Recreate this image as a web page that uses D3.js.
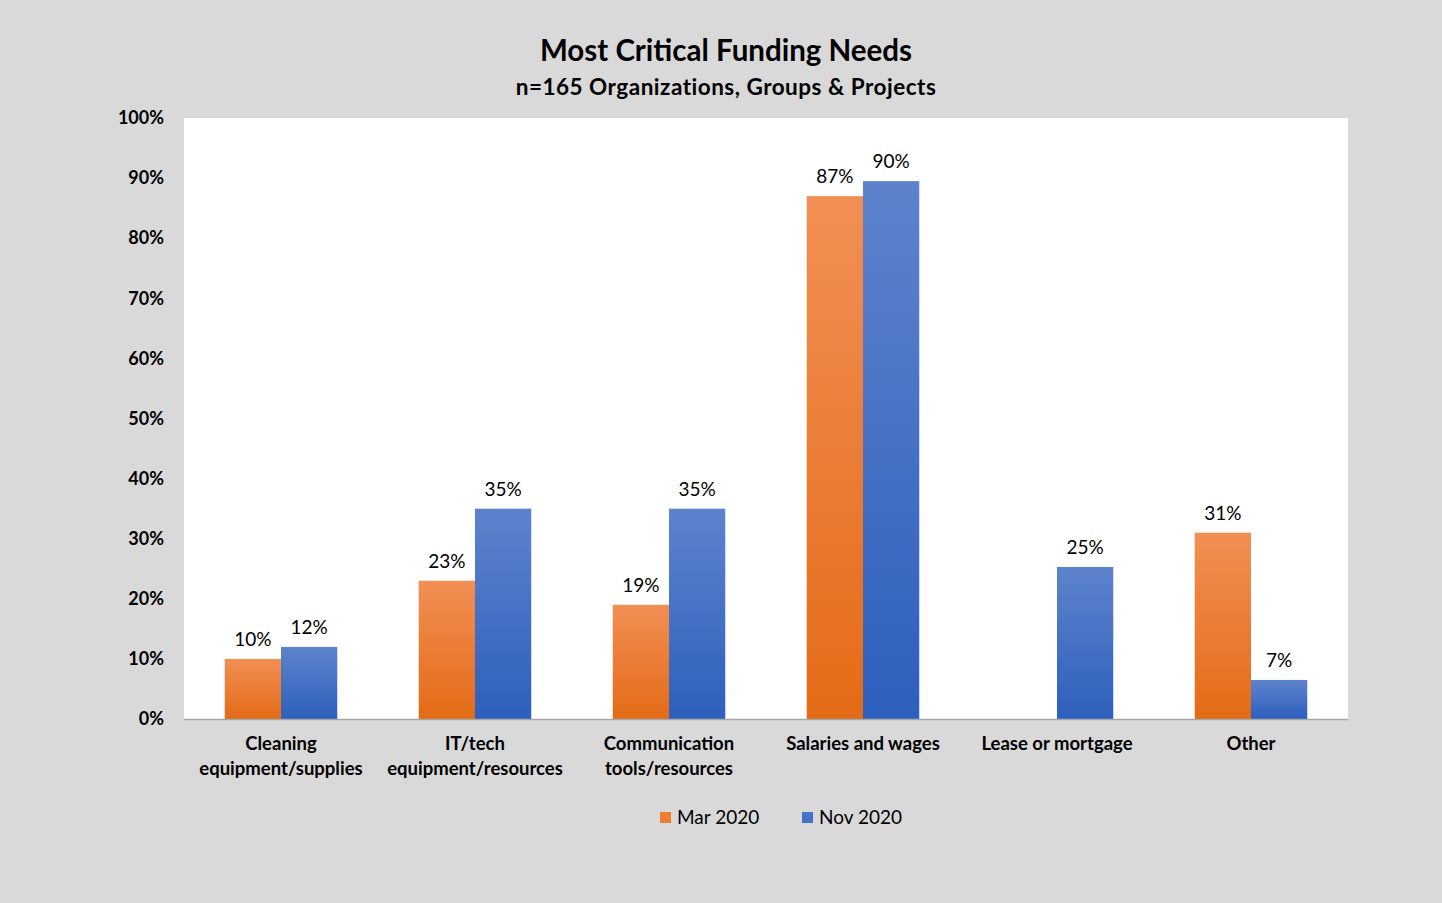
<!DOCTYPE html>
<html>
<head>
<meta charset="utf-8">
<script src="https://cdn.jsdelivr.net/npm/d3@7"></script>
<style>
  html, body { margin: 0; padding: 0; background: #d9d9d9; }
  svg { display: block; }
  text { font-family: Lato, "Open Sans", "Liberation Sans", sans-serif; fill: #000; }
</style>
</head>
<body>
<svg id="chart" width="1442" height="903"></svg>
<script>
const categories = [
  ["Cleaning", "equipment/supplies"],
  ["IT/tech", "equipment/resources"],
  ["Communication", "tools/resources"],
  ["Salaries and wages"],
  ["Lease or mortgage"],
  ["Other"]
];
const seriesNames = ["Mar 2020", "Nov 2020"];
const mar2020 = [10, 23, 19, 87, null, 31];
const nov2020 = [12, 35, 35, 89.5, 25.3, 6.5];
const yTicks = [0, 10, 20, 30, 40, 50, 60, 70, 80, 90, 100];

const svg = d3.select("#chart");
const W = 1442, H = 903;
const plot = { left: 184, right: 1348, top: 118, bottom: 719 };

svg.append("rect").attr("width", W).attr("height", H).attr("fill", "#d9d9d9");

const defs = svg.append("defs");
const gradDefs = [
  { id: "gOrange", top: "#f28f55", bottom: "#e36b16" },
  { id: "gBlue", top: "#5e83cc", bottom: "#2d5fbd" }
];
gradDefs.forEach(g => {
  const lg = defs.append("linearGradient").attr("id", g.id)
    .attr("x1", 0).attr("y1", 0).attr("x2", 0).attr("y2", 1);
  lg.append("stop").attr("offset", "0%").attr("stop-color", g.top);
  lg.append("stop").attr("offset", "100%").attr("stop-color", g.bottom);
});
const fills = ["url(#gOrange)", "url(#gBlue)"];
const legendColors = ["#ed7d31", "#4472c4"];

svg.append("rect")
  .attr("x", plot.left).attr("y", plot.top)
  .attr("width", plot.right - plot.left).attr("height", plot.bottom - plot.top)
  .attr("fill", "#ffffff");

const x0 = d3.scaleBand()
  .domain(d3.range(categories.length))
  .range([plot.left, plot.right])
  .paddingInner(0.42).paddingOuter(0.21);
const x1 = d3.scaleBand().domain([0, 1]).range([0, x0.bandwidth()]);
const y = d3.scaleLinear().domain([0, 100]).range([plot.bottom, plot.top]);

// title
svg.append("text").attr("x", 726).attr("y", 61).attr("text-anchor", "middle")
  .attr("font-size", 29.5).attr("font-weight", "bold").text("Most Critical Funding Needs");
svg.append("text").attr("x", 726).attr("y", 95).attr("text-anchor", "middle")
  .attr("font-size", 22.5).attr("font-weight", "bold").attr("letter-spacing", 0.5)
  .text("n=165 Organizations, Groups & Projects");

// y axis
const yAxis = d3.axisLeft(y).tickValues(yTicks).tickSize(0).tickPadding(20)
  .tickFormat(d => d + "%");
const ya = svg.append("g").attr("transform", `translate(${plot.left},0)`).call(yAxis);
ya.select(".domain").remove();
ya.selectAll("text").attr("font-size", 18).attr("font-weight", "bold")
  .attr("font-family", "Lato, 'Open Sans', sans-serif").attr("fill", "#000");

// bars
const series = [mar2020, nov2020];
const g = svg.append("g");
series.forEach((vals, si) => {
  vals.forEach((v, ci) => {
    if (v == null) return;
    const bx = x0(ci) + x1(si);
    g.append("rect")
      .attr("x", bx).attr("y", y(v))
      .attr("width", x1.bandwidth()).attr("height", y(0) - y(v))
      .attr("fill", fills[si]);
    g.append("text")
      .attr("x", bx + x1.bandwidth() / 2).attr("y", y(v) - 13)
      .attr("text-anchor", "middle").attr("font-size", 19)
      .text(Math.round(v) + "%");
  });
});

// baseline
svg.append("line").attr("x1", plot.left).attr("x2", plot.right)
  .attr("y1", plot.bottom + 0.5).attr("y2", plot.bottom + 0.5)
  .attr("stroke", "#a6a6a6").attr("stroke-width", 1.5);

// x axis labels
categories.forEach((lines, ci) => {
  const cx = x0(ci) + x0.bandwidth() / 2;
  const t = svg.append("text").attr("x", cx).attr("y", 750)
    .attr("text-anchor", "middle").attr("font-size", 18.5).attr("font-weight", "bold");
  lines.forEach((ln, i) => {
    t.append("tspan").attr("x", cx).attr("dy", i === 0 ? 0 : 25).text(ln);
  });
});

// legend
const legendItems = [{ x: 660 }, { x: 802 }];
seriesNames.forEach((name, i) => {
  const lx = legendItems[i].x;
  svg.append("rect").attr("x", lx).attr("y", 812).attr("width", 11).attr("height", 11)
    .attr("fill", legendColors[i]);
  svg.append("text").attr("x", lx + 17).attr("y", 824).attr("font-size", 19).text(name);
});
</script>
</body>
</html>
